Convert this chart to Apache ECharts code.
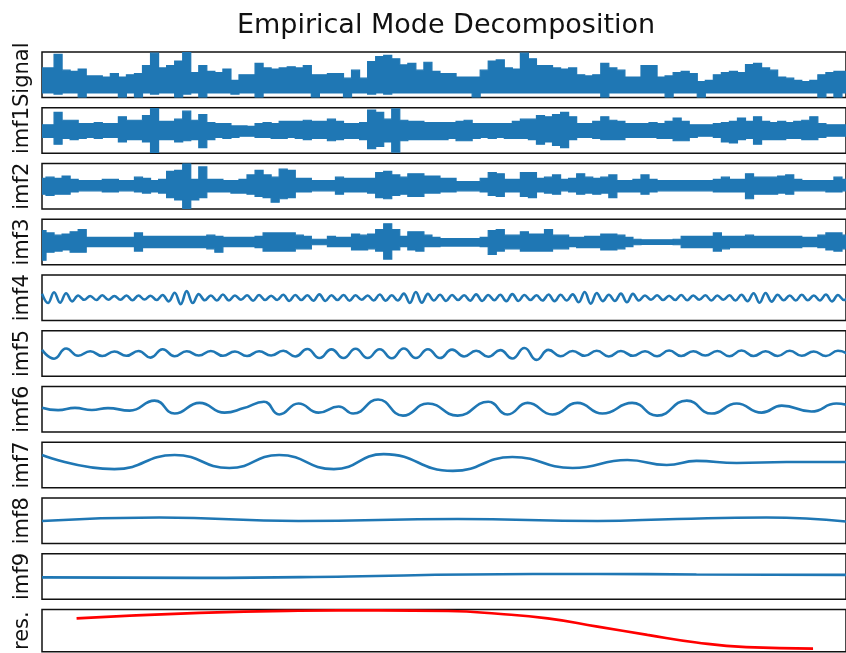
<!DOCTYPE html>
<html>
<head>
<meta charset="utf-8">
<script src="https://cdn.jsdelivr.net/npm/echarts@6/dist/echarts.min.js"></script>
<style>
html, body { margin: 0; padding: 0; background: #fff; overflow: hidden; }
#main { width: 846px; height: 653px; }
</style>
</head>
<body>
<div id="main"></div>
<script>
// panel names, top to bottom
const labels = ['Signal', 'imf1', 'imf2', 'imf3', 'imf4', 'imf5', 'imf6', 'imf7', 'imf8', 'imf9', 'res.'];

// noisy panels: upper / lower envelope, one value every 10 x-units (0..1000)
const signalHi = [
  3, 3, 9, 2, 1.5, 2.5, -0.5, -0.5, -1, 0.5,
  -1, 0, 0.5, 4, 9.5, 3, 4, 6, 10, 1,
  4, 1.5, 1, 2.5, -2.5, 0, 0, 5, 3, 2.5,
  3, 3.5, 3, 4, 0, 0, 0.5, 0.5, -1.5, 2,
  -1.5, 5.8, 8, 8.5, 7, 4.3, 5, 2, 5.5, 1.5,
  0.5, 0.5, -1, -1, -1, 2, 6, 6.5, 3, 2.5,
  9.5, 7, 4, 4, 3, 2.5, 3, 0, -0.5, 0,
  5, 3, 2, -1, -1, 4, 4, -1, -0.5, 1,
  1.5, 0.5, -3, -2.5, 0, 1, 1.5, 1, 4.5, 5,
  3, 2, -1, -1.5, -2.5, -3, -2.5, 0, 1, 1.5,
  1.5
];
const signalLo = [
  -8, -8, -8.5, -8, -8, -10, -8, -8, -8, -8,
  -10, -8, -10, -8, -8.5, -8, -8, -10, -8.5, -8,
  -10, -8, -8, -8, -8.5, -8, -8, -10, -8, -8,
  -8, -8, -8, -8, -10, -8, -8, -8, -10, -8,
  -8, -8.5, -8, -8.5, -8, -8, -8, -8, -8, -8,
  -8, -8, -8, -8, -10, -8, -8, -8, -8, -8,
  -8, -8, -8, -8, -8, -8, -8, -8, -8, -8,
  -10, -8, -8, -8, -8, -8, -8, -8, -10, -8,
  -8, -8, -10, -8, -8, -8, -8, -8, -8, -8,
  -8, -8, -8, -8, -8, -8, -8, -10, -8, -10,
  -8
];
const imf1Hi = [
  2.5, 2.5, 8, 4.5, 4.5, 3, 3, 3.5, 3, 3,
  6, 4.5, 4.5, 6.5, 9.6, 4, 4, 5, 8.5, 4.5,
  7, 3.5, 3, 3, 2, 2, 1.8, 3, 3.5, 3,
  4, 4, 4, 4.5, 4, 4, 5, 4, 3, 3,
  3.5, 9, 8, 5, 9.5, 4.5, 4, 4, 3.5, 3.5,
  3.5, 3.5, 4, 4.5, 3, 3, 3, 3, 3, 4,
  5, 5, 6.5, 6, 7, 8, 6, 3, 3, 4,
  6, 4.5, 4, 3, 3, 3, 3.5, 3, 4, 5.5,
  4, 2.5, 2.5, 2.5, 3, 3.5, 4, 5.5, 4, 6,
  4, 3.5, 4, 3.5, 4, 4.5, 6, 3, 2.5, 2.5,
  2.5
];
const imf1Lo = [
  -3, -3, -6, -3.5, -4, -3.5, -3, -3.5, -3, -3,
  -5, -4, -4, -5, -9.6, -4, -4, -5, -4.5, -4,
  -7.5, -4, -3, -3.5, -3, -2.5, -2.5, -3, -3, -3.5,
  -3.5, -3, -3.5, -4, -3.5, -3.5, -4.5, -4, -3.5, -3.5,
  -4, -8, -7, -5, -9.5, -4.5, -4, -4, -4, -4,
  -4, -3.5, -4.5, -4.5, -3.5, -3, -3.5, -3, -3.5, -3.5,
  -3.5, -4, -6, -5, -6.5, -7.5, -4, -3, -3, -3.5,
  -4, -4, -4, -3, -3, -3, -3, -3.5, -3.5, -4.5,
  -4.5, -3, -2.5, -2.5, -3, -5, -5.5, -4, -3.5, -6,
  -4, -4, -4, -3.5, -3.5, -4, -4, -3, -2.5, -2.5,
  -2.5
];
const imf2Hi = [
  3.5, 4, 3.5, 4.5, 3, 2.5, 2.5, 2.5, 3, 3,
  2.5, 2.5, 4, 3.5, 2.5, 3, 6.5, 7, 10, 3,
  8.5, 3, 3, 2.5, 2.5, 3, 5, 7, 5, 4,
  7.5, 7, 3.5, 3.5, 2.5, 2.5, 2.5, 4, 3.5, 3.5,
  3.5, 3.5, 6, 6.5, 5, 4, 5.5, 5.5, 4.5, 4.5,
  3.5, 3.5, 2, 2, 2, 3.5, 6, 5.5, 3, 3,
  6, 6, 3.5, 4, 5, 3, 3.5, 5.5, 4, 3.5,
  4, 5, 2.5, 2.5, 3, 5, 3, 2.5, 2.5, 2.5,
  2.5, 2.5, 2.5, 2.5, 3, 4, 3, 3, 5.5, 4,
  4, 4, 4.5, 5, 3, 2.5, 2.5, 2.5, 2.5, 4,
  3
];
const imf2Lo = [
  -3.5, -4, -3.5, -3.5, -2.5, -2, -2, -2, -2.5, -2.5,
  -2, -2, -2.5, -3, -2.5, -3, -5, -6, -10, -6,
  -5, -2.5, -2.5, -2.5, -3, -3, -3.5, -4.5, -5, -7,
  -5.5, -5, -2.5, -2.5, -2, -2, -2, -3.5, -2.5, -2.5,
  -2.5, -3, -5, -5.5, -4, -3.5, -4.5, -4.5, -3, -3,
  -2.5, -2.5, -2, -2, -2, -2.5, -4, -4.5, -2.5, -2.5,
  -4.5, -5, -2.5, -3, -3.5, -2, -2.5, -3.5, -3, -3.5,
  -3, -5, -2.5, -2.5, -2.5, -3.5, -2.5, -2, -2, -2,
  -2, -2, -2, -2, -2.5, -2.5, -2.5, -2.5, -5.5, -3.5,
  -3.5, -3.5, -3, -3.5, -2, -2, -2, -2, -2.5, -2.5,
  -2
];
const imf3Hi = [
  5, 4, 3, 3.5, 4.5, 5.5, 2, 2, 2, 2,
  2, 2, 4, 2.5, 2.5, 2.5, 2.5, 2.5, 2.5, 2.5,
  2.5, 3, 2.5, 2, 2, 2, 2, 2.5, 4, 4,
  4, 4, 3, 2.5, 1.2, 1.2, 2.5, 2, 2, 3.5,
  3, 3.5, 5.5, 8, 5.5, 2.5, 4.5, 4.5, 3, 2,
  1.5, 1.5, 1.5, 1.5, 1.5, 2, 5, 5.5, 3, 3,
  4.5, 3.5, 3.5, 5.5, 3, 3, 2, 2, 2.5, 2.5,
  3.5, 3.5, 3, 2, 1.2, 1, 1, 1, 1, 1.2,
  2.5, 2.5, 2.5, 2.5, 4, 2.5, 2.5, 2.5, 3, 2.5,
  2.5, 2.5, 2.5, 2.5, 2.5, 2, 2, 3, 4, 4,
  3
];
const imf3Lo = [
  -8, -4.5, -4, -3.5, -4.5, -4.5, -2, -2, -2, -2,
  -2, -2, -4, -2.5, -2.5, -2.5, -2.5, -2.5, -2.5, -2.5,
  -2.5, -3, -4.5, -2, -2, -2, -2, -2.5, -4, -4,
  -4, -4, -3, -3, -1.2, -1.2, -2, -2, -2, -3.5,
  -3.5, -3, -4, -7.5, -3.5, -2, -3.5, -4, -2, -2,
  -1.8, -1.8, -1.8, -1.8, -1.8, -2, -5.5, -4, -3, -3,
  -4, -4, -4, -4, -3, -3, -2, -2.5, -2.5, -2.5,
  -3.5, -3.5, -3, -2, -1.2, -1, -1, -1, -1, -1.2,
  -2.5, -2.5, -2.5, -2.5, -4, -3, -2.5, -2.5, -2.5, -2.5,
  -2.5, -2.5, -2.5, -2.5, -2.5, -2, -2, -2.5, -3.5, -4,
  -3
];

// imf4: successive extremes, one every 7.5 x-units
const imf4 = [
  1.8, -2.3, 2.4, -2.2, 2, -1.6,
  1, -0.9, 0.8, -1, 1.1, -0.9, 0.8, -0.9, 1, -1.1, 1, -0.8, 0.9, -1, 1.2,
  -1.6, 2.2, -2.8, 2.9, -2.3, 1.6,
  -1.1, 1, -1.2, 1.4, -1.2, 1, -0.9, 1.1, -1.3, 1.2,
  -1, 0.9, -1, 1.3, -1.4, 1.2, -1, 1.1, -1.3, 1.5,
  -1.4, 1.1, -1, 1.2, -1.3, 1.1, -0.9, 1, -1.2, 1.4,
  -1.3, 1.1, -1.2,
  1.8, -2.3, 2.5, -2.2, 1.7,
  -1.2, 1.3, -1.4, 1.2, -1, 1.1, -1.3, 1.5, -1.4, 1.2,
  -1.1, 1.3, -1.5, 1.6, -1.4, 1.2, -1, 1.1, -1.2, 1.4,
  -1.5, 1.3, -1.2, 1.5,
  -2, 2.5, -2.6, 2.1,
  -1.5, 1.3, -1.4,
  1.8, -2, 1.7,
  -1.2, 1, -0.9, 1.1, -1, 0.9, -1, 1.2, -1.1, 1,
  -0.9, 1.1, -1.2, 1, -0.9, 1.1, -1.2, 1.3, -1.5,
  2, -2.2, 2.1, -1.7,
  1.3, -1.1, 1, -1.2, 1.3, -1.1, 1, -1.2, 1.4, -1.6, 1.2, -1, 1.1
];
// imf5: successive extremes, one every 15 x-units
const imf5 = [
  1.6, -2.3, 2.2,
  -1, 1, -1.1, 0.9, -1, 1.1,
  -1.8, 1.9,
  -1.2, 1, -0.9, 1.1, -1, 0.9, -1.1, 1, -0.9, 1.2, -1.3,
  2, -2,
  1.8, -2, 2.1, -2, 1.9, -2.1, 2.2, -2, 1.9, -2, 1.7,
  -1.3, 1.2, -1.4, 1.5,
  -2.2, 2.4, -2.8,
  1.6, -1.2, 1.1, -1, 1.2, -1.3, 1.1, -1, 1, -1.2,
  1.3, -1.1, 1, -0.9, 1.1, -1.2, 1.3, -1.1, 1, -1.1,
  1.2, -1, 0.9, -1.1, 1.2, -1
];

// slower modes: turning points (x-units) and values
const imf6X = [0, 20, 41, 62, 82, 109, 140, 165, 196, 227, 251, 276, 295, 319, 344, 369, 387, 418, 449, 480, 517, 555, 579, 604, 635, 666, 697, 734, 765, 802, 833, 864, 895, 920, 957, 988, 1000];
const imf6Y = [0.7, -0.4, 0.6, -0.3, 0.5, -0.6, 3.8, -1.9, 2.8, -1.5, 0.5, 3.3, -2.3, 2.5, -1.5, 1.2, -1.9, 4.3, -2.8, 2.5, -2.8, 3.3, -2.3, 2.8, -2.3, 2.8, -1.9, 2.8, -2.8, 3.8, -1.9, 2.5, -1.5, 1.6, -1, 2.5, 2];
const imf7X = [0, 90, 165, 233, 295, 363, 425, 511, 585, 660, 728, 777, 814, 864, 926, 1000];
const imf7Y = [4.4, -1.8, 4.4, -1.3, 4.4, -1.8, 4.8, -2.6, 3.5, -1.3, 2.2, 0, 1.8, 0.9, 1.3, 1.3];
const imf8X = [0, 146, 319, 517, 691, 790, 901, 1000];
const imf8Y = [-0.1, 1.4, -0.1, 0.8, -0.1, 0.8, 1.4, -0.3];
const imf9X = [0, 196, 381, 530, 691, 814, 1000];
const imf9Y = [-0.4, -0.6, 0, 0.9, 1.1, 0.9, 0.7];
const resX = [43, 196, 319, 418, 505, 567, 629, 691, 753, 814, 876, 959];
const resY = [5.8, 8.4, 9.4, 9.6, 9.3, 8, 5.8, 1.9, -2, -5.6, -7.8, -8.5];

const BLUE = '#1f77b4';
const FONT = 'DejaVu Sans';
const STEP = 10;

const grids = [], xAxes = [], yAxes = [], series = [];
labels.forEach(function (name, k) {
  grids.push({
    left: 42, width: 808, top: 52 + 55.75 * k, height: 45.5,
    show: true, borderColor: '#111', borderWidth: 1.5, backgroundColor: 'transparent'
  });
  xAxes.push({
    gridIndex: k, type: 'value', min: 0, max: 1000,
    axisLine: { show: false }, axisTick: { show: false }, axisLabel: { show: false }, splitLine: { show: false }
  });
  yAxes.push({
    gridIndex: k, type: 'value', min: -10, max: 10,
    name: name, nameLocation: 'middle', nameRotate: 90, nameGap: 9,
    nameTextStyle: { fontFamily: FONT, fontSize: 21, color: '#111' },
    axisLine: { show: false }, axisTick: { show: false }, axisLabel: { show: false }, splitLine: { show: false }
  });
});

// dense oscillation drawn as a filled band between the two envelopes (blocky, like the dense raw trace)
function band(k, hi, lo) {
  return {
    type: 'custom', xAxisIndex: k, yAxisIndex: k, silent: true, animation: false, clip: true,
    data: hi.map(function (v, i) { return [i * STEP, v, lo[i]]; }),
    renderItem: function (params, api) {
      if (params.dataIndex !== 0) return null;
      const h = STEP / 2;
      const top = [], bot = [];
      hi.forEach(function (v, i) {
        top.push(api.coord([i * STEP - h, v]), api.coord([i * STEP + h, v]));
      });
      lo.forEach(function (v, i) {
        bot.push(api.coord([i * STEP - h, v]), api.coord([i * STEP + h, v]));
      });
      return {
        type: 'polygon',
        shape: { points: top.concat(bot.reverse()) },
        style: { fill: BLUE, stroke: BLUE, lineWidth: 1.2 }
      };
    }
  };
}

function line(k, data, color, smooth) {
  return {
    type: 'line', xAxisIndex: k, yAxisIndex: k, data: data, showSymbol: false, silent: true,
    smooth: smooth, animation: false, clip: true,
    lineStyle: { color: color, width: 2.6 }
  };
}

function stepped(vals, step) {
  return vals.map(function (v, i) { return [i * step, v]; });
}
function paired(xs, ys) {
  return xs.map(function (x, i) { return [x, ys[i]]; });
}

series.push(band(0, signalHi, signalLo));
series.push(band(1, imf1Hi, imf1Lo));
series.push(band(2, imf2Hi, imf2Lo));
series.push(band(3, imf3Hi, imf3Lo));
series.push(line(4, stepped(imf4, 7.5), BLUE, 0.4));
series.push(line(5, stepped(imf5, 15), BLUE, 0.5));
series.push(line(6, paired(imf6X, imf6Y), BLUE, 0.5));
series.push(line(7, paired(imf7X, imf7Y), BLUE, 0.5));
series.push(line(8, paired(imf8X, imf8Y), BLUE, 0.5));
series.push(line(9, paired(imf9X, imf9Y), BLUE, 0.5));
series.push(line(10, paired(resX, resY), '#ff0000', 0.5));

const chart = echarts.init(document.getElementById('main'), null, { renderer: 'canvas' });
chart.setOption({
  animation: false,
  backgroundColor: '#fff',
  title: {
    text: 'Empirical Mode Decomposition',
    left: 441, top: 7, textAlign: 'center',
    textStyle: { fontFamily: FONT, fontSize: 27, fontWeight: 'normal', color: '#111' }
  },
  grid: grids,
  xAxis: xAxes,
  yAxis: yAxes,
  series: series
});
</script>
</body>
</html>
